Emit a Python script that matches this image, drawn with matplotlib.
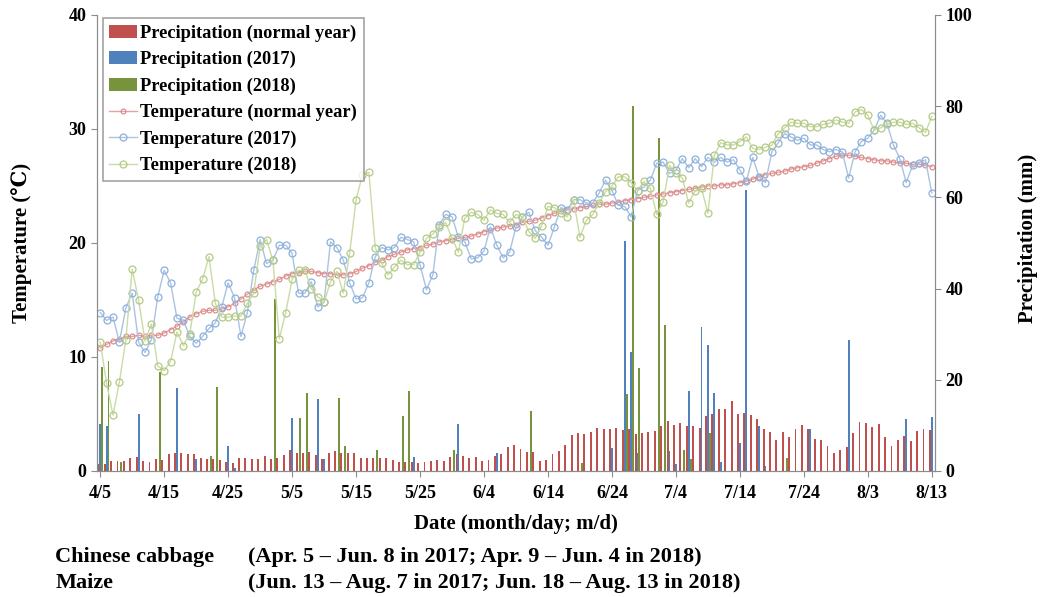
import numpy as np
import matplotlib
matplotlib.use("Agg")
import matplotlib.pyplot as plt

plt.rcParams["font.family"] = ["Liberation Serif", "DejaVu Serif"]
plt.rcParams["font.weight"] = "bold"

# daily values, 4/5 .. 8/13 (131 days)
temp_normal = [
    10.8, 11.1, 11.4, 11.6, 11.8, 11.8, 11.9, 11.8, 11.9, 11.9,
    12.1, 12.4, 12.7, 13.1, 13.5, 13.8, 14.0, 14.1, 14.1, 14.2,
    14.4, 14.7, 15.1, 15.5, 15.9, 16.2, 16.4, 16.6, 16.8, 17.1,
    17.3, 17.4, 17.5, 17.5, 17.4, 17.3, 17.3, 17.2, 17.2, 17.3,
    17.5, 17.8, 18.0, 18.3, 18.5, 18.8, 19.0, 19.2, 19.4, 19.5,
    19.6, 19.8, 19.9, 20.1, 20.2, 20.3, 20.4, 20.5, 20.6, 20.8,
    21.0, 21.1, 21.3, 21.4, 21.5, 21.6, 21.8, 21.9, 22.0, 22.2,
    22.4, 22.6, 22.8, 22.9, 23.0, 23.1, 23.2, 23.3, 23.4, 23.4,
    23.5, 23.6, 23.7, 23.8, 23.9, 24.0, 24.1, 24.2, 24.3, 24.4,
    24.5, 24.6, 24.7, 24.8, 24.9, 25.0, 25.0, 25.1, 25.1, 25.2,
    25.3, 25.4, 25.6, 25.8, 26.0, 26.1, 26.2, 26.3, 26.5, 26.6,
    26.7, 26.8, 27.0, 27.2, 27.4, 27.6, 27.7, 27.7, 27.6, 27.5,
    27.4, 27.3, 27.2, 27.2, 27.1, 27.0, 27.0, 26.9, 26.9, 26.8, 26.7,
]
temp_2017 = [
    13.9, 13.2, 13.5, 11.3, 14.3, 15.6, 11.3, 10.4, 11.5, 15.3,
    17.6, 16.5, 13.4, 13.2, 11.8, 11.2, 11.8, 12.5, 13.0, 14.4,
    16.5, 15.2, 11.8, 13.9, 17.6, 20.3, 18.2, 18.5, 19.8, 19.8,
    19.1, 15.6, 15.6, 16.6, 14.4, 14.8, 20.1, 19.6, 18.5, 16.5,
    15.1, 15.2, 16.5, 18.8, 19.6, 19.4, 19.6, 20.5, 20.3, 20.1,
    18.1, 15.9, 17.2, 21.6, 22.5, 22.3, 20.5, 20.1, 18.6, 18.7,
    19.3, 21.4, 19.8, 18.7, 19.2, 21.4, 22.3, 22.7, 21.1, 20.5,
    19.8, 21.4, 23.1, 22.9, 23.8, 23.8, 23.5, 23.5, 24.4, 25.5,
    24.6, 23.3, 23.2, 22.3, 24.6, 24.9, 25.5, 27.0, 27.1, 26.1,
    26.4, 27.4, 26.6, 27.4, 26.7, 27.5, 27.1, 27.5, 27.1, 27.3,
    26.4, 25.4, 27.5, 25.8, 25.3, 28.0, 28.8, 29.6, 29.3, 29.0,
    29.2, 28.6, 28.6, 28.2, 28.0, 28.2, 28.0, 25.7, 28.0, 28.9,
    29.2, 29.9, 31.2, 30.5, 28.6, 27.4, 25.3, 26.8, 27.0, 27.3, 24.4,
]
temp_2018 = [
    11.3, 7.7, 4.9, 7.8, 11.5, 17.7, 15.0, 11.4, 12.9, 9.2,
    8.8, 9.6, 12.2, 11.0, 12.0, 15.7, 16.8, 18.8, 14.7, 13.5,
    13.5, 13.6, 13.6, 14.7, 15.6, 19.7, 20.3, 18.5, 11.6, 13.9,
    16.8, 17.6, 17.6, 16.0, 15.3, 14.8, 16.6, 17.5, 15.6, 19.1,
    23.8, 26.0, 26.2, 19.6, 18.2, 17.2, 17.9, 18.5, 18.1, 18.1,
    19.2, 20.4, 20.8, 21.4, 21.8, 20.4, 19.2, 22.2, 22.7, 22.5,
    22.0, 22.9, 22.6, 22.5, 21.8, 22.5, 22.3, 21.0, 20.4, 21.5,
    23.2, 23.1, 22.6, 22.3, 23.8, 20.5, 22.0, 22.5, 23.5, 24.5,
    25.0, 25.8, 25.8, 25.3, 24.6, 25.4, 24.8, 22.5, 23.6, 26.8,
    26.1, 25.7, 23.5, 24.6, 24.8, 22.6, 27.7, 28.8, 28.6, 28.6,
    28.9, 29.3, 28.3, 28.2, 28.4, 28.6, 29.6, 30.1, 30.6, 30.5,
    30.5, 30.2, 30.2, 30.4, 30.5, 30.8, 30.6, 30.5, 31.5, 31.7,
    31.2, 29.9, 30.1, 30.4, 30.6, 30.6, 30.4, 30.5, 30.1, 29.7, 31.1,
]
rain_normal = [
    1.5, 1.5, 2.2, 2.2, 2.2, 2.8, 3.1, 2.2, 2.0, 2.6,
    2.4, 3.7, 4.0, 3.9, 3.7, 3.7, 2.9, 2.6, 2.6, 2.4,
    2.0, 1.8, 2.9, 2.9, 2.7, 2.7, 3.3, 2.7, 2.9, 3.4,
    4.6, 3.9, 3.9, 4.2, 3.4, 2.6, 4.0, 4.4, 4.0, 3.9,
    3.9, 2.9, 2.9, 2.9, 2.9, 2.9, 2.3, 2.0, 2.0, 2.0,
    1.7, 2.0, 2.2, 2.4, 2.2, 3.1, 3.7, 3.3, 2.9, 3.1,
    2.2, 2.3, 3.3, 3.7, 5.3, 5.8, 4.9, 4.2, 4.2, 2.2,
    2.4, 3.7, 4.4, 5.8, 7.8, 8.3, 8.0, 8.6, 9.5, 9.3,
    9.1, 9.5, 9.0, 9.3, 8.0, 8.3, 8.6, 8.8, 9.9, 11.0,
    10.0, 10.6, 9.9, 9.9, 9.5, 12.1, 12.4, 13.5, 13.5, 15.4,
    12.4, 12.8, 12.2, 11.3, 9.1, 8.6, 6.9, 8.6, 7.5, 9.3,
    10.0, 9.3, 7.1, 6.9, 5.5, 4.0, 4.6, 5.3, 8.4, 10.7,
    10.6, 9.7, 10.2, 7.5, 5.5, 6.9, 7.7, 6.6, 8.8, 9.1, 8.9,
]
# rainy days only (day index from 4/5, mm)
rain_2017_day = [0, 1, 6, 12, 15, 20, 21, 30, 34, 35, 49, 56, 62, 80, 82, 83, 84,
                 89, 90, 92, 94, 95, 96, 97, 100, 101, 103, 104, 111, 117, 126, 130]
rain_2017_mm = [10.2, 9.9, 12.4, 18.1, 2.6, 5.5, 0.7, 11.7, 15.7, 2.6, 3.1, 10.2, 3.9, 5.1,
                50.5, 26.0, 3.9, 4.4, 1.5, 17.5, 31.6, 27.7, 17.0, 2.0, 6.2, 61.6, 9.8,
                1.2, 9.1, 28.7, 11.3, 11.8]
rain_2018_day = [0, 1, 3, 9, 17, 18, 27, 31, 32, 37, 38, 43, 47, 48, 55, 67, 75, 82,
                 83, 84, 87, 88, 91, 92, 95, 107]
rain_2018_mm = [22.7, 24.2, 2.0, 21.6, 3.2, 18.4, 37.8, 11.7, 17.1, 16.1, 5.4, 4.6, 12.1,
                17.5, 4.7, 13.1, 1.8, 16.8, 80.0, 22.6, 73.0, 32.0, 4.6, 2.6, 8.4, 2.9]

tick_labels = ["4/5", "4/15", "4/25", "5/5", "5/15", "5/25", "6/4", "6/14",
               "6/24", "7/4", "7/14", "7/24", "8/3", "8/13"]

days = np.arange(len(temp_normal))
rain_2017 = np.zeros(len(days))
rain_2017[rain_2017_day] = rain_2017_mm
rain_2018 = np.zeros(len(days))
rain_2018[rain_2018_day] = rain_2018_mm

fig = plt.figure(figsize=(10.42, 5.97), dpi=100)
ax = fig.add_axes([0.0931, 0.2111, 0.8042, 0.7638])
ax2 = ax.twinx()
ax.set_zorder(ax2.get_zorder() + 1)
ax.patch.set_visible(False)

w = 0.3
ax2.bar(days - w, rain_normal, w, color="#C0504D", lw=0, label="Precipitation (normal year)")
ax2.bar(days, rain_2017, w, color="#4F81BD", lw=0, label="Precipitation (2017)")
ax2.bar(days + w, rain_2018, w, color="#77933C", lw=0, label="Precipitation (2018)")

ax.plot(days, temp_normal, color="#E6A3A3", lw=1, marker="o", ms=3.5, mfc="none",
        mec="#D98585", mew=0.8, label="Temperature (normal year)")
ax.plot(days, temp_2017, color="#A9C3E3", lw=1, marker="o", ms=5, mfc="none",
        mec="#8DB0DC", mew=0.9, label="Temperature (2017)")
ax.plot(days, temp_2018, color="#CADBA6", lw=1, marker="o", ms=5, mfc="none",
        mec="#B3C985", mew=0.9, label="Temperature (2018)")

ax.set_xlim(-0.5, 130.5)
ax.set_ylim(0, 40)
ax2.set_ylim(0, 100)
ax.set_xticks(np.arange(0, 131, 10))
ax.set_xticklabels(tick_labels)
ax.set_yticks(np.arange(0, 41, 10))
ax2.set_yticks(np.arange(0, 101, 20))

for a in (ax, ax2):
    for s in a.spines.values():
        s.set_color("#8C8C8C")
    a.spines["top"].set_visible(False)
    a.tick_params(colors="#8C8C8C", labelcolor="black", labelsize=13, length=4)
ax.tick_params(axis="x", pad=6)

ax.set_ylabel("Temperature (\u2103)", fontsize=15, fontweight="bold")
ax.yaxis.set_label_coords(-0.078, 0.5)
ax2.set_ylabel("Precipitation (mm)", fontsize=15, fontweight="bold")
ax2.yaxis.set_label_coords(1.099, 0.51)
ax.set_xlabel("Date (month/day; m/d)", fontsize=15, fontweight="bold")
ax.xaxis.set_label_coords(0.5, -0.094)

h1, l1 = ax2.get_legend_handles_labels()
h2, l2 = ax.get_legend_handles_labels()
leg = ax.legend(h1 + h2, l1 + l2, loc="upper left", bbox_to_anchor=(0.007, 0.993),
                borderaxespad=0, frameon=True, fancybox=False, handlelength=1.5,
                handletextpad=0.2, labelspacing=0.5, borderpad=0.35,
                prop={"weight": "bold", "size": 13.2})
leg.get_frame().set_edgecolor("#8C8C8C")
leg.get_frame().set_linewidth(1.2)

note_font = dict(fontsize=16, fontweight="bold", va="center")
fig.text(0.053, 0.067, "Chinese cabbage", **note_font)
fig.text(0.238, 0.067, "(Apr. 5 \u2013 Jun. 8 in 2017; Apr. 9 \u2013 Jun. 4 in 2018)", **note_font)
fig.text(0.053, 0.023, "Maize", **note_font)
fig.text(0.238, 0.023, "(Jun. 13 \u2013 Aug. 7 in 2017; Jun. 18 \u2013 Aug. 13 in 2018)", **note_font)

fig.savefig("out.png", dpi=100)
